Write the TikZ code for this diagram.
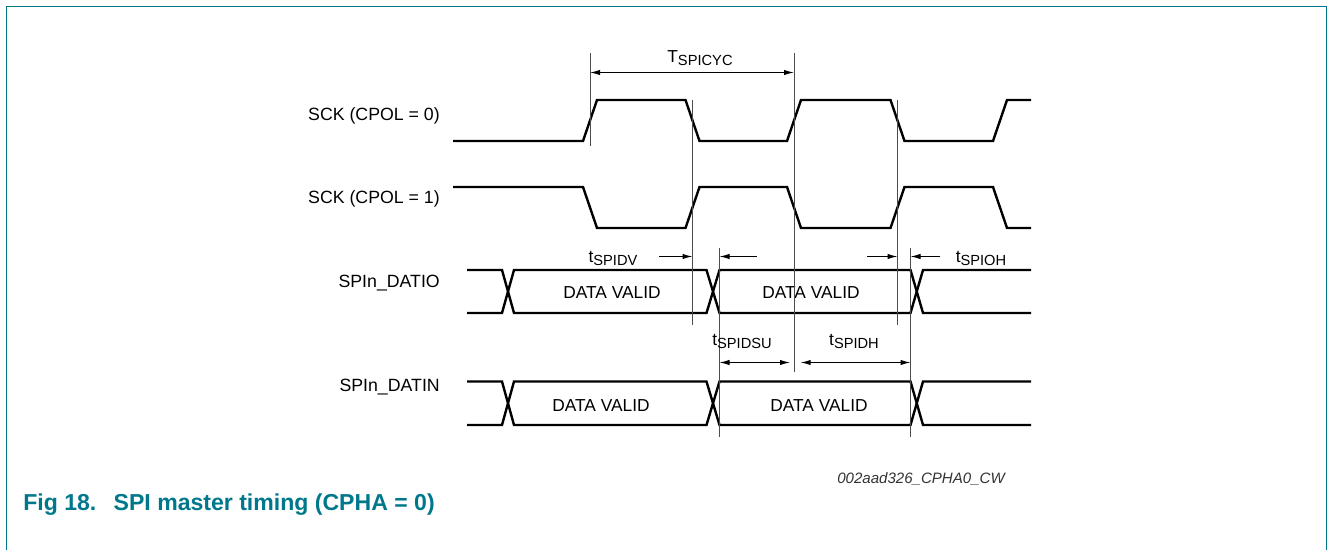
\documentclass[tikz,border=0pt]{standalone}
\usepackage{fontspec}
\setmainfont{Liberation Sans}
\usetikzlibrary{arrows.meta}
\definecolor{nxpteal}{RGB}{0,120,140}
\newcommand{\tsub}[2]{#1\raisebox{-0.35ex}{\fontsize{11}{12}\selectfont #2}}

\begin{document}
\begin{tikzpicture}[x=0.75pt, y=-0.75pt,
  sig/.style={line width=1.8pt, line join=miter},
  refline/.style={line width=0.7pt, black!70},
  dim/.style={line width=0.75pt, -{Latex[length=7.5pt,width=4pt]}},
  dimboth/.style={line width=0.75pt, {Latex[length=7.5pt,width=4pt]}-{Latex[length=7.5pt,width=4pt]}},
  lbl/.style={anchor=base east, inner sep=0pt, font=\fontsize{13.3}{16}\selectfont},
  txt/.style={anchor=base, inner sep=0pt, font=\fontsize{13}{16}\selectfont}]

\useasboundingbox (0,0) rectangle (1328,550);
\draw[nxpteal, line width=1pt] (6.5,550) |- (1326.5,6.5) -- (1326.5,550);

% signal names
\node[lbl] (l0) at (440,120) {SCK (CPOL = 0)};
\node[lbl] (l1) at (440,203.5) {SCK (CPOL = 1)};
\node[lbl] (l2) at (440,287) {SPIn\_DATIO};
\node[lbl] (l3) at (440,391) {SPIn\_DATIN};

% clocks
\draw[sig] (453,141) -- (583,141) -- (597,100) -- (685.5,100) -- (699.5,141) -- (787,141)
  -- (801,100) -- (890.5,100) -- (904.5,141) -- (993,141) -- (1007,100) -- (1031,100);
\draw[sig] (453,187) -- (583,187) -- (597,228) -- (685.5,228) -- (699.5,187) -- (787,187)
  -- (801,228) -- (890.5,228) -- (904.5,187) -- (993,187) -- (1007,228) -- (1031,228);

% data lines
\draw[sig] (467,270) -- (502,270) -- (514,313) -- (706.5,313) -- (719.5,270) -- (910.5,270) -- (923,313) -- (1031,313);
\draw[sig] (467,313) -- (502,313) -- (514,270) -- (706.5,270) -- (719.5,313) -- (910.5,313) -- (923,270) -- (1031,270);
\draw[sig] (467,381.5) -- (502,381.5) -- (514,425) -- (706.5,425) -- (719.5,381.5) -- (910.5,381.5) -- (923,425) -- (1031,425);
\draw[sig] (467,425) -- (502,425) -- (514,381.5) -- (706.5,381.5) -- (719.5,425) -- (910.5,425) -- (923,381.5) -- (1031,381.5);

\node[txt] (dio1) at (612,298.5) {DATA VALID};
\node[txt] (dio2) at (811,298.5) {DATA VALID};
\node[txt] (din1) at (601,411.5) {DATA VALID};
\node[txt] (din2) at (819,411.5) {DATA VALID};

% reference lines
\coordinate (m1a) at (590,53);    \coordinate (m1b) at (590,146);
\coordinate (m2a) at (692.5,100); \coordinate (m2b) at (692.5,325);
\coordinate (m3a) at (794,53);    \coordinate (m3b) at (794,372);
\coordinate (m4a) at (897.5,100); \coordinate (m4b) at (897.5,325);
\coordinate (m5a) at (719.5,248); \coordinate (m5b) at (719.5,437);
\coordinate (m6a) at (910.5,248); \coordinate (m6b) at (910.5,437);
\foreach \m in {1,...,6}
  \draw[refline] (m\m a) -- (m\m b);

% timing
\coordinate (cyc) at (0,72.5);
\draw[dimboth] (m1a |- cyc) -- (m3a |- cyc);
\node[txt] (tcyc) at (700,62) {\tsub{T}{SPICYC}};

\coordinate (dv0) at (659,256.5);
\coordinate (dv1) at (757,256.5);
\coordinate (oh0) at (867,256.5);
\coordinate (oh1) at (940,256.5);
\draw[dim] (dv0) -- (m2a |- dv0);
\draw[dim] (dv1) -- (m5a |- dv1);
\draw[dim] (oh0) -- (m4a |- oh0);
\draw[dim] (oh1) -- (m6a |- oh1);
\node[txt] (tdv) at (613,262) {\tsub{t}{SPIDV}};
\node[txt] (toh) at (981,262) {\tsub{t}{SPIOH}};

\coordinate (ds) at (0,362.5);
\draw[dimboth, shorten >=3pt] (m5a |- ds) -- (m3a |- ds);
\draw[dimboth, shorten <=5pt] (m3a |- ds) -- (m6a |- ds);
\node[txt] (tdsu) at (742,345) {\tsub{t}{SPIDSU}};
\node[txt] (tdh) at (854,345) {\tsub{t}{SPIDH}};

\node[anchor=base west, inner sep=0pt, text=black!80, font=\fontsize{11.3}{13}\selectfont\itshape] (code) at (837,483) {002aad326\_CPHA0\_CW};
\node[anchor=base west, inner sep=0pt, text=nxpteal, font=\fontsize{17.3}{20}\selectfont\bfseries] (fig) at (23,510) {Fig 18.\hspace{13pt}SPI master timing (CPHA = 0)};
\end{tikzpicture}
\end{document}
